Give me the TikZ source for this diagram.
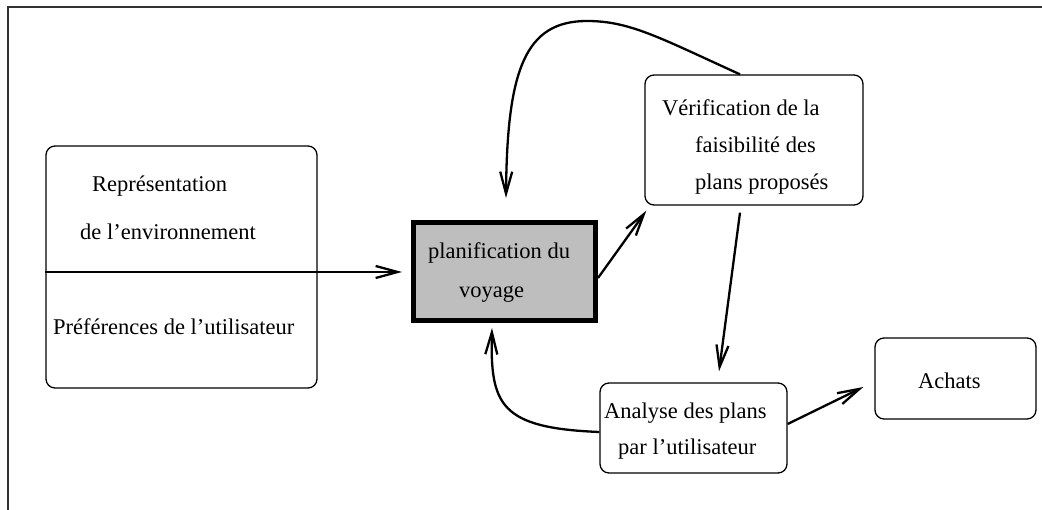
\documentclass[tikz,border=0pt]{standalone}
\usepackage{fontspec}
\setmainfont{Liberation Serif}
\usetikzlibrary{arrows.meta}
\definecolor{planfill}{RGB}{190,190,190}
\definecolor{framecol}{RGB}{50,50,50}
\begin{document}
\begin{tikzpicture}[x=1pt,y=-1pt,
  box/.style={draw,rounded corners=9pt,line width=1.3pt,inner sep=0pt},
  txt/.style={anchor=base west,font=\fontsize{22.5}{27}\selectfont,inner sep=0pt},
  arr/.style={line width=2.3pt,-{Straight Barb[length=22pt,width=12pt,line width=2.3pt]}}]
\useasboundingbox (0,0) rectangle (1042,510);
\draw[line width=2pt,framecol] (7.5,510) -- (7.5,7.5) -- (1042,7.5);
% boxes
\node[box,minimum width=271pt,minimum height=242pt] (env) at (181.5,267) {};
\draw[line width=1.2pt] ([yshift=-5pt]env.west) -- ([yshift=-5pt]env.east);
\node[draw,line width=5pt,fill=planfill,minimum width=182pt,minimum height=98pt,inner sep=0pt] (plan) at (504.5,271.5) {};
\node[box,minimum width=218pt,minimum height=130pt] (verif) at (754,140) {};
\node[box,minimum width=187pt,minimum height=90pt] (anal) at (693.5,428) {};
\node[box,minimum width=161pt,minimum height=81pt] (achat) at (955.5,378.5) {};
% texts
\node[txt] (t1) at (92,192) {Représentation};
\node[txt] (t2) at (80,240) {de l’environnement};
\node[txt] (t3) at (53,335) {Préférences de l’utilisateur};
\node[txt] (t4) at (428,259) {planification du};
\node[txt] (t5) at (459,298) {voyage};
\node[txt] (t6) at (662,116) {Vérification de la};
\node[txt] (t7) at (695,153) {faisibilité des};
\node[txt] (t8) at (695,190) {plans proposés};
\node[txt] (t9) at (604,419) {Analyse des plans};
\node[txt] (t10) at (618,455) {par l’utilisateur};
\node[txt] (t11) at (918,389) {Achats};
% connectors
\draw[arr] ([yshift=-5pt]env.east) -- ([xshift=-9pt,yshift=-0.5pt]plan.west);
\draw[arr] ([yshift=-6.5pt]plan.east) -- ([xshift=2pt,yshift=-5pt]verif.south west);
\draw[arr] ([xshift=-14pt]verif.north) .. controls (660,38) and (630,21) .. (587,21)
   .. controls (525,21) and (507,70) .. ([xshift=1.5pt,yshift=22pt]plan.north);
\draw[arr] ([xshift=-14pt,yshift=-7pt]verif.south) -- ([xshift=25.5pt,yshift=11pt]anal.north);
\draw[arr] ([yshift=-4pt]anal.west) .. controls (500,428) and (490,405) .. ([xshift=-12.5pt,yshift=-5pt]plan.south);
\draw[arr] ([yshift=4pt]anal.east) -- ([xshift=-11pt,yshift=-8.5pt]achat.west);
\end{tikzpicture}
\end{document}
